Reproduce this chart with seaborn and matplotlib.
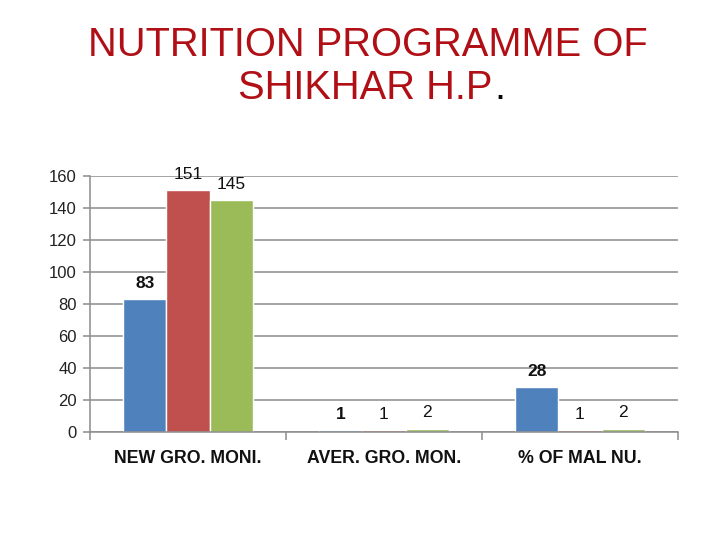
import matplotlib
matplotlib.use("Agg")
import matplotlib.pyplot as plt
import seaborn as sns
import pandas as pd
import numpy as np

categories = ["NEW GRO. MONI.", "AVER. GRO. MON.", "% OF MAL NU."]
series_names = ["Series 1", "Series 2", "Series 3"]
series1 = [83, 1, 28]
series2 = [151, 1, 1]
series3 = [145, 2, 2]
yticks = [0, 20, 40, 60, 80, 100, 120, 140, 160]
colors = ["#4F81BD", "#C0504D", "#9BBB59"]

rows = []
for name, vals in zip(series_names, [series1, series2, series3]):
    for c, v in zip(categories, vals):
        rows.append({"cat": c, "series": name, "value": v})
df = pd.DataFrame(rows)

sns.set_theme(style="white")
plt.rcParams["font.family"] = ["Liberation Sans", "DejaVu Sans"]

fig = plt.figure(figsize=(7.2, 5.4), dpi=100)
ax = fig.add_axes([90/720, 1-432/540, 588/720, 256/540])

sns.barplot(data=df, x="cat", y="value", hue="series", order=categories,
            hue_order=series_names, palette=colors, width=0.66,
            saturation=1, edgecolor="white", linewidth=1.0, legend=False, ax=ax)

ax.set_xlim(-0.5, 2.5)
ax.set_ylim(0, 160)
ax.set_yticks(yticks)
ax.set_yticklabels([str(t) for t in yticks], fontsize=12, color="#222222")
ax.yaxis.grid(True, color="#8C8C8C", linewidth=1.1)
ax.set_axisbelow(True)
for s in ["top", "right"]:
    ax.spines[s].set_visible(False)
for s in ["left", "bottom"]:
    ax.spines[s].set_color("#8C8C8C")
    ax.spines[s].set_linewidth(1.1)
ax.tick_params(axis="y", which="major", length=5, width=1.1, color="#8C8C8C", pad=4.5, left=True)

ax.set_xticks([-0.5, 0.5, 1.5, 2.5])
ax.set_xticklabels([])
ax.set_xticks([0, 1, 2], minor=True)
ax.set_xticklabels(categories, minor=True, fontsize=12.8, fontweight="bold", color="#111111")
ax.tick_params(axis="x", which="major", length=6, width=1.1, color="#8C8C8C", direction="out", bottom=True)
ax.tick_params(axis="x", which="minor", length=0, pad=13)
ax.set_xlabel("")
ax.set_ylabel("")

for i, cont in enumerate(ax.containers):
    vals = [series1, series2, series3][i]
    for patch, v in zip(cont.patches, vals):
        xc = patch.get_x() + patch.get_width() / 2
        ax.annotate(str(v), (xc, v), xytext=(0, 11.5), textcoords="offset points",
                    ha="center", va="center", fontsize=12.5,
                    fontweight="bold" if i == 0 else "normal", color="#111111",
                    annotation_clip=False)

fig.text(368/720, 1-45/540, "NUTRITION PROGRAMME OF", ha="center", va="center",
         fontsize=28.7, color="#B01015")
fig.text(365/720, 1-88/540, "SHIKHAR H.P", ha="center", va="center",
         fontsize=28.7, color="#B01015")
fig.text(494/720, 1-88/540, ".", ha="left", va="center", fontsize=28.7, color="black")

fig.savefig("out.png", dpi=100, facecolor="white")
